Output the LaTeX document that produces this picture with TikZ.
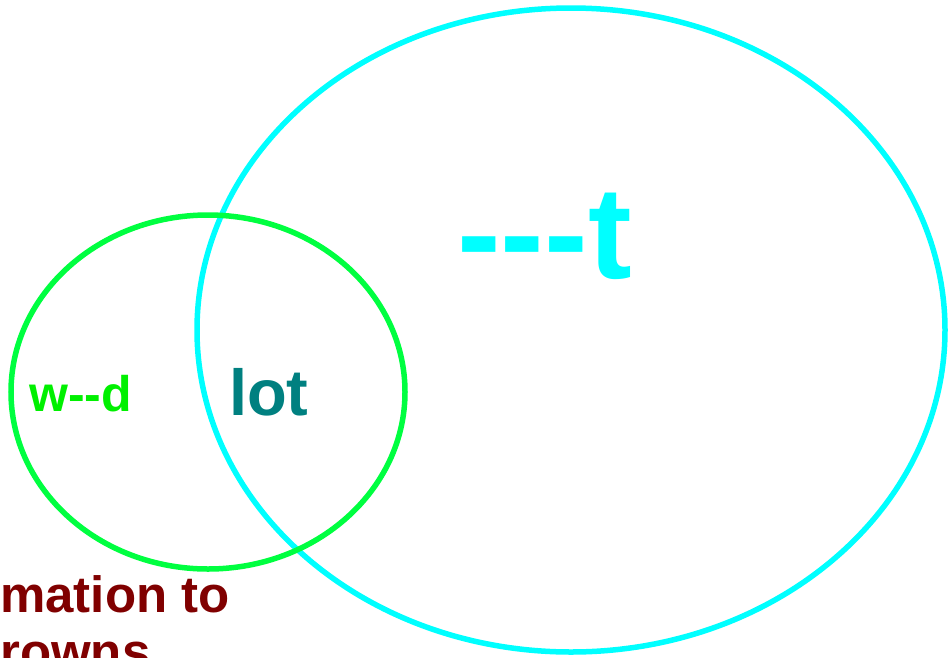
\documentclass[tikz,border=0pt]{standalone}
\usepackage{fontspec}
\setmainfont{Liberation Sans}
\usetikzlibrary{shapes.geometric}
\definecolor{ringcyan}{HTML}{00FFFF}
\definecolor{ringgreen}{HTML}{00FF40}
\definecolor{wordgreen}{HTML}{00F000}
\definecolor{wordteal}{HTML}{008080}
\definecolor{wordred}{HTML}{800000}
\tikzset{
  ring/.style={
    ellipse, line width=5.5pt, inner sep=0pt, outer sep=0pt
  },
  word/.style={
    inner sep=0pt, anchor=base west, font=\bfseries
  },
}
\begin{document}
\begin{tikzpicture}[x=1pt, y=-1pt]
    \useasboundingbox (0,0) rectangle (948,657);
    \node[ring, draw=ringcyan, minimum width=748pt, minimum height=644pt]
         (big) at (571,330) {};
    \node[ring, draw=ringgreen, minimum width=394pt, minimum height=354pt]
         (small) at (208,392) {};

    \node[word, text=ringcyan, font=\bfseries\fontsize{131}{131}\selectfont]
         (dash) at (457,278) {-{}-{}-t};
    \node[word, text=wordteal, font=\bfseries\fontsize{65}{65}\selectfont]
         (lot) at (229,415) {lot};
    \node[word, text=wordgreen, font=\bfseries\fontsize{50}{50}\selectfont]
         (wd) at (29,411) {w-{}-d};
    % base of a two-line node is its last line
    \node[word, text=wordred, align=left,
          font=\bfseries\fontsize{51}{57}\selectfont]
         (mation) at (0,669) {mation to\\rowns};
\end{tikzpicture}
\end{document}
